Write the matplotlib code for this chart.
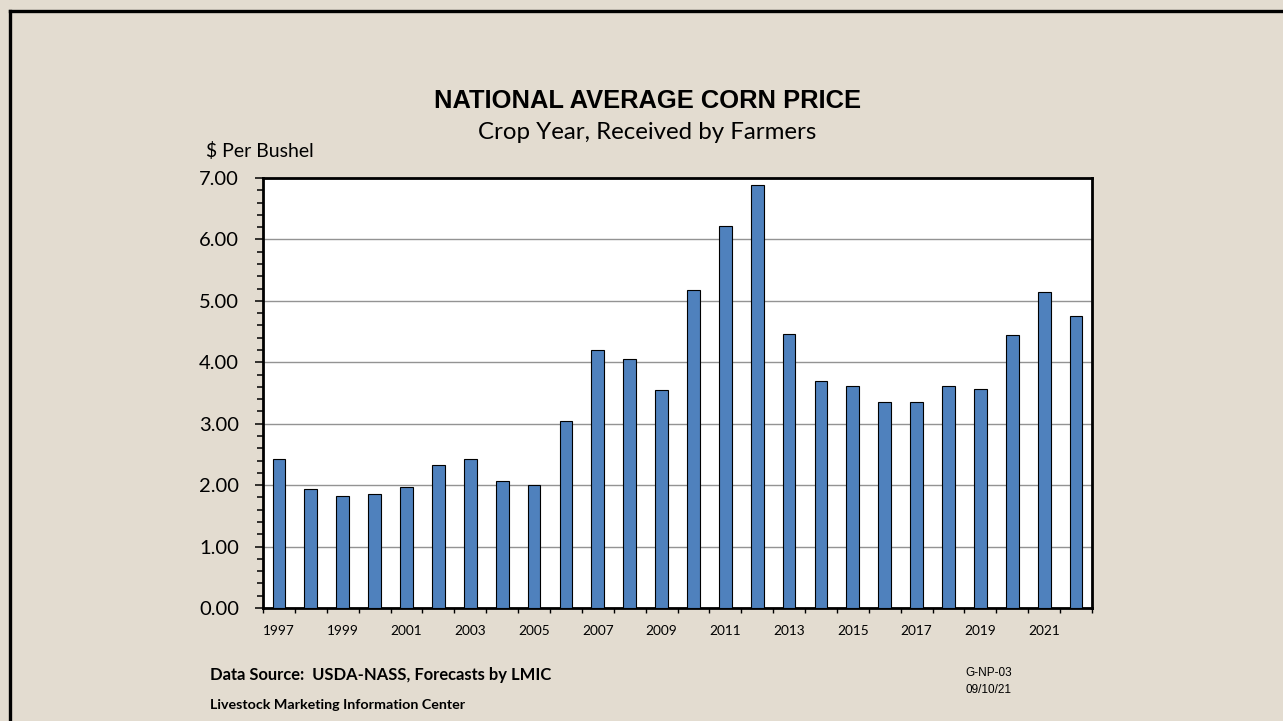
import matplotlib
matplotlib.use("Agg")
import matplotlib.pyplot as plt
import numpy as np
from matplotlib.lines import Line2D
from matplotlib.ticker import MultipleLocator, FixedLocator

# Data
YEARS = list(range(1997, 2023))
PRICES = [2.43, 1.94, 1.82, 1.85, 1.97, 2.32, 2.42, 2.06, 2.00, 3.04,
          4.20, 4.06, 3.55, 5.18, 6.22, 6.89, 4.46, 3.70, 3.61, 3.36,
          3.36, 3.61, 3.56, 4.45, 5.15, 4.75]

TITLE = "NATIONAL AVERAGE CORN PRICE"
SUBTITLE = "Crop Year, Received by Farmers"
Y_LABEL = "$ Per Bushel"
SOURCE = "Data Source:  USDA-NASS, Forecasts by LMIC"
CENTER = "Livestock Marketing Information Center"
CODE = "G-NP-03"
DATE = "09/10/21"

# Style
W, H = 1283, 721
BG = "#e3dcd0"
BAR_COLOR = "#4f81bd"
GRID_COLOR = "#939393"
SANS = ["Lato", "DejaVu Sans"]
ARIAL = ["Liberation Sans", "DejaVu Sans"]


def fx(px):
    return px / W


def fy(py):
    return 1 - py / H


fig = plt.figure(figsize=(W / 100, H / 100), dpi=100, facecolor=BG)

# slide border (only left and top visible)
fig.add_artist(Line2D([fx(9.5), fx(9.5)], [fy(10.5), -0.05], color="black", lw=2.4))
fig.add_artist(Line2D([fx(9.5), 1.05], [fy(10.5), fy(10.5)], color="black", lw=2.4))

ax = fig.add_axes([fx(263), fy(608), fx(1092) - fx(263), fy(178) - fy(608)])
ax.set_facecolor("white")

x = np.arange(len(YEARS))
ax.bar(x, PRICES, width=0.4, color=BAR_COLOR, edgecolor="black", linewidth=0.8, zorder=3)

ax.set_xlim(-0.5, len(YEARS) - 0.5)
ax.set_ylim(0, 7)

# y axis
ax.yaxis.set_major_locator(MultipleLocator(1))
ax.yaxis.set_minor_locator(MultipleLocator(0.2))
ax.set_yticks(np.arange(0, 8))
ax.set_yticklabels(["%.2f" % v for v in np.arange(0, 8)], fontfamily=SANS, fontsize=14.5)
ax.tick_params(axis="y", which="major", direction="out", length=5.8, width=1.1, pad=11.5)
ax.tick_params(axis="y", which="minor", direction="out", length=4.3, width=1.1)
ax.yaxis.grid(True, which="major", color=GRID_COLOR, lw=1.0, zorder=0)
ax.set_axisbelow(True)

# x axis: labels every other year, tick marks between categories
ax.xaxis.set_major_locator(FixedLocator(x[::2]))
ax.set_xticklabels([str(y) for y in YEARS[::2]], fontfamily=SANS, fontsize=9.8)
ax.xaxis.set_minor_locator(FixedLocator(np.arange(-0.5, len(YEARS), 1.0)))
ax.tick_params(axis="x", which="major", length=0, pad=12)
ax.tick_params(axis="x", which="minor", direction="out", length=3.6, width=1.0)

for s in ax.spines.values():
    s.set_color("black")
    s.set_linewidth(2)

# texts
fig.text(fx(648), fy(108), TITLE, ha="center", va="baseline", fontfamily=ARIAL,
         fontweight="bold", fontsize=18.4)
fig.text(fx(647), fy(139), SUBTITLE, ha="center", va="baseline", fontfamily=SANS, fontsize=17.3)
fig.text(fx(206), fy(157), Y_LABEL, ha="left", va="baseline", fontfamily=SANS, fontsize=14)
fig.text(fx(210), fy(680), SOURCE, ha="left", va="baseline", fontfamily=SANS,
         fontweight="bold", fontsize=11.9)
fig.text(fx(210), fy(709), CENTER, ha="left", va="baseline", fontfamily=SANS,
         fontweight="bold", fontsize=10.3)
fig.text(fx(965), fy(676), CODE, ha="left", va="baseline", fontfamily=ARIAL, fontsize=8.5)
fig.text(fx(965), fy(693), DATE, ha="left", va="baseline", fontfamily=ARIAL, fontsize=8.5)

fig.savefig("out.png", dpi=100, facecolor=BG)
